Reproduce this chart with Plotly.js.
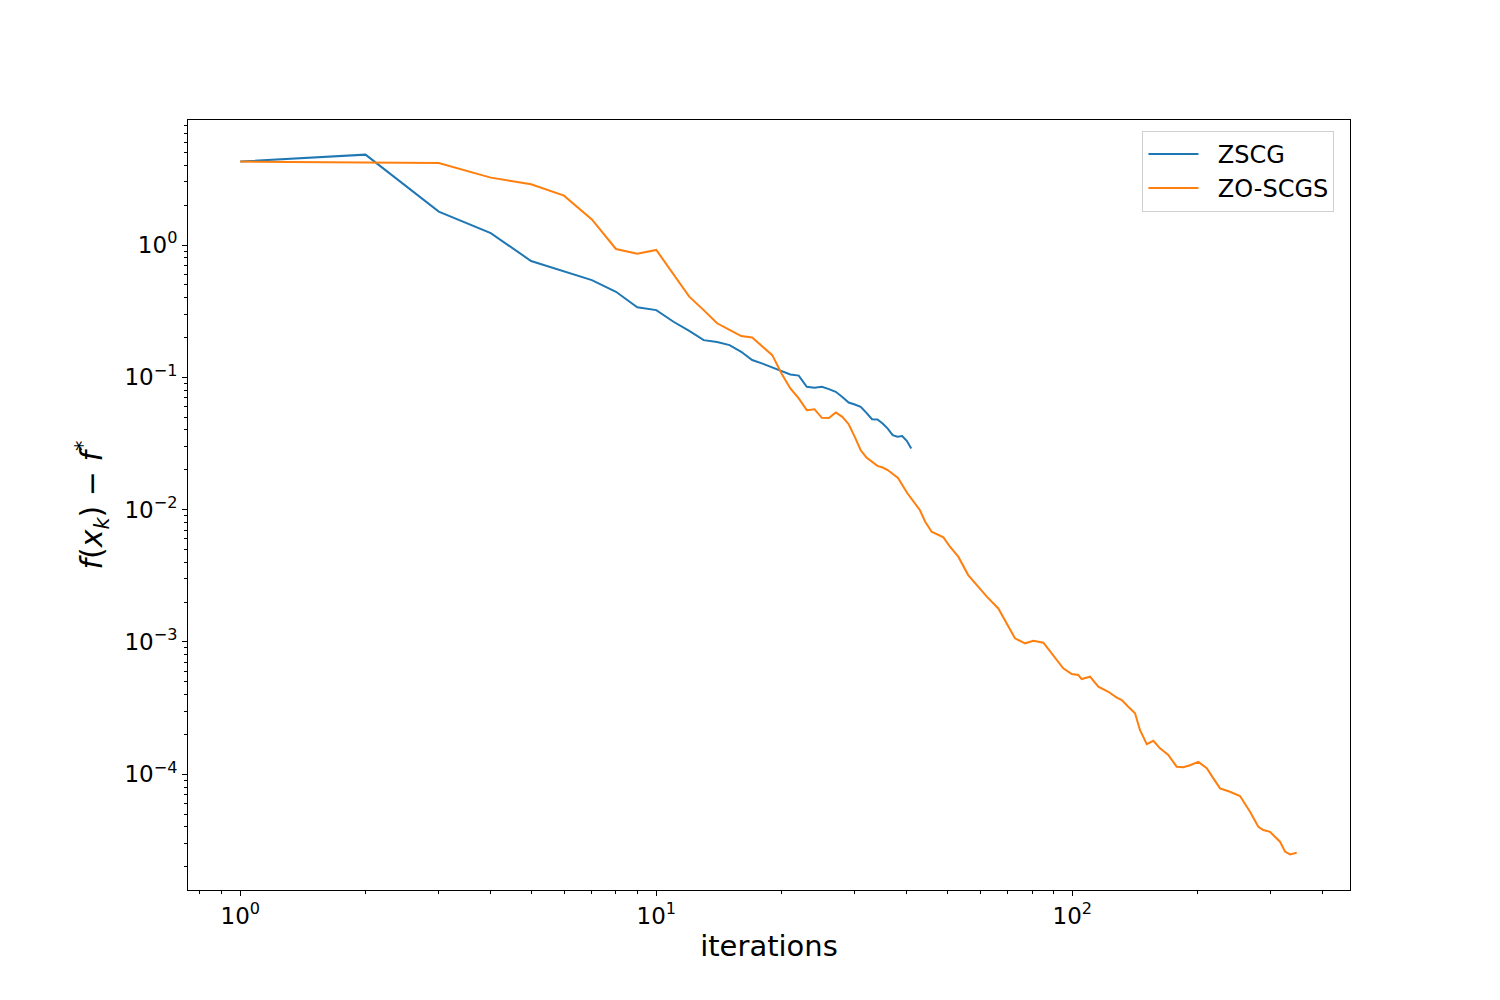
<!DOCTYPE html>
<html>
<head>
<meta charset="utf-8">
<script src="https://cdn.plot.ly/plotly-3.0.1.min.js"></script>
<style>html,body{margin:0;padding:0;background:#fff;}#chart{width:1500px;height:1000px;}</style>
</head>
<body>
<div id="chart"></div>
<script>
// ---- data ----
const zscgIter = [1,2,3,4,5,6,7,8,9,10,11,12,13,14,15,16,17,18,19,20,21,22,23,24,25,26,27,28,29,30,31,32,33,34,35,36,37,38,39,40,41];
const zscgGap = [4.27,4.82,1.79,1.23,0.757,0.636,0.543,0.443,0.338,0.322,0.263,0.224,0.191,0.185,0.175,0.156,0.135,0.127,0.119,0.112,0.105,0.103,0.0848,0.0833,0.0848,0.0814,0.0777,0.0711,0.0645,0.0623,0.0598,0.0539,0.0482,0.0480,0.0448,0.0410,0.0365,0.0355,0.0360,0.0331,0.0290];

const zoscgsIter = [1,2,3,4,5,6,7,8,9,10,11,12,13,14,15,16,17,18,19,20,21,22,23,24,25,26,27,28,29,30,31,32,33,34,35,36,
  38.1,40.1,43.0,44.3,45.9,49.0,50.8,53.2,56.2,58.9,62.3,66.4,69.6,72.8,77.0,80.6,85.2,89.2,95.1,99.7,103.4,105.3,110.3,115.5,
  122.1,127.9,131.5,136.3,141.5,145.4,151.0,156.6,162.5,170.1,178.2,184.9,191.8,200.9,210.5,218.3,226.5,239.4,253.0,267.4,
  280.0,287.9,298.8,315.7,324.6,333.7,346.3];
const zoscgsGap = [4.27,4.2,4.17,3.23,2.88,2.36,1.56,0.933,0.859,0.917,0.593,0.407,0.322,0.256,0.228,0.205,0.2,0.170,0.147,0.107,0.0824,0.0692,0.0565,0.0574,0.0494,0.0492,0.0542,0.0503,0.0442,0.0355,0.0281,0.0248,0.023,0.0214,0.0208,0.0199,
  0.01734,0.01335,0.00993,0.00810,0.00681,0.00617,0.00524,0.00441,0.00320,0.00269,0.00220,0.00179,0.00138,0.001065,0.000976,0.001021,0.000986,0.000820,0.000632,0.000572,0.000562,0.000524,0.000546,0.000459,
  0.000420,0.000379,0.000364,0.000324,0.000289,0.000216,0.000169,0.000179,0.000157,0.000140,0.000114,0.000113,0.000117,0.000124,0.000111,9.31e-5,7.82e-5,7.37e-5,6.84e-5,5.21e-5,
  4.01e-5,3.79e-5,3.67e-5,3.09e-5,2.60e-5,2.48e-5,2.55e-5];

const seriesNames = ['ZSCG', 'ZO-SCGS'];
const xTickVals = [1, 10, 100];
const xTickText = ['10<sup>0</sup>', '10<sup>1</sup>', '10<sup>2</sup>'];
const yTickVals = [1, 0.1, 0.01, 0.001, 0.0001];
const yTickText = ['10<sup>0</sup>', '10<sup>−1</sup>', '10<sup>−2</sup>', '10<sup>−3</sup>', '10<sup>−4</sup>'];

// minor ticks (2..9 per decade)
function minorTicks(kmin, kmax) {
  const out = [];
  for (let k = kmin; k <= kmax; k++) for (let m = 2; m <= 9; m++) out.push(m * Math.pow(10, k));
  return out;
}

const FONT = 'DejaVu Sans, Liberation Sans, sans-serif';
const GAP = '\u2002\u200A'; // space between legend line sample and label

const traces = [
  {x: zscgIter, y: zscgGap, name: GAP + seriesNames[0], type: 'scatter', mode: 'lines',
   line: {color: '#1f77b4', width: 2}},
  {x: zoscgsIter, y: zoscgsGap, name: GAP + seriesNames[1], type: 'scatter', mode: 'lines',
   line: {color: '#ff7f0e', width: 2}}
];

const axisCommon = {
  type: 'log', showgrid: false, zeroline: false,
  showline: true, mirror: true, linecolor: '#000', linewidth: 1,
  ticks: 'outside', ticklen: 5, tickwidth: 1, tickcolor: '#000',
  tickmode: 'array', tickfont: {family: FONT, size: 23, color: '#000'},
  automargin: false
};

const layout = {
  width: 1500, height: 1000,
  paper_bgcolor: '#fff', plot_bgcolor: '#fff',
  margin: {l: 188, r: 150, t: 120, b: 110},
  showlegend: true,
  legend: {
    x: 0.9866, y: 0.986, xanchor: 'right', yanchor: 'top',
    bgcolor: 'rgba(255,255,255,0.8)', bordercolor: '#d0d0d0', borderwidth: 1,
    font: {family: FONT, size: 24, color: '#000'}, itemwidth: 50
  },
  xaxis: Object.assign({}, axisCommon, {
    range: [-0.1257, 2.6675],
    tickvals: xTickVals, ticktext: xTickText,
    minor: {tickvals: minorTicks(-1, 2), ticks: 'outside', ticklen: 3, tickwidth: 1, tickcolor: '#000', showgrid: false},
    title: {text: 'iterations', font: {family: FONT, size: 29, color: '#000'}, standoff: 8}
  }),
  yaxis: Object.assign({}, axisCommon, {
    range: [-4.875, 0.9448],
    tickvals: yTickVals, ticktext: yTickText,
    minor: {tickvals: minorTicks(-5, 0), ticks: 'outside', ticklen: 3, tickwidth: 1, tickcolor: '#000', showgrid: false},
    title: {text: '<i>f</i>(<i>x</i><sub><i>k</i></sub>) − <i>f</i><sup>*</sup>', font: {family: FONT, size: 30, color: '#000'}, standoff: 12}
  })
};

Plotly.newPlot('chart', traces, layout, {displayModeBar: false, staticPlot: true});
</script>
</body>
</html>
